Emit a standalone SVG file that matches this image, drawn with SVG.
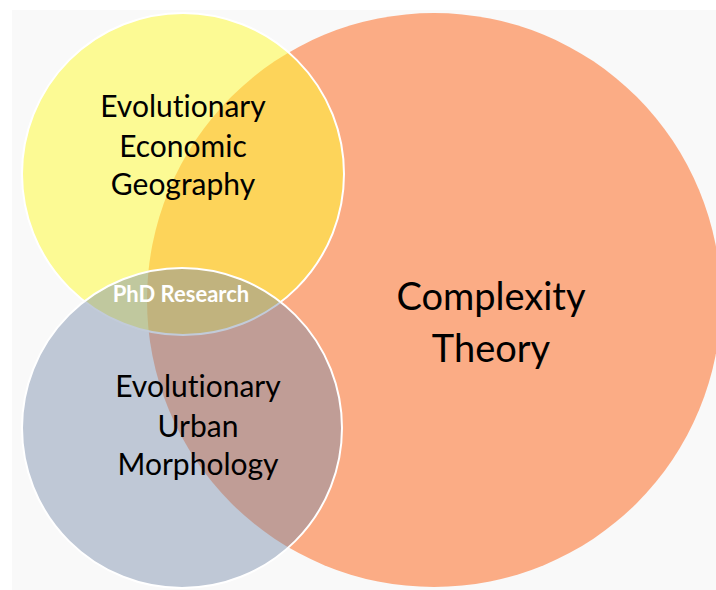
<svg xmlns="http://www.w3.org/2000/svg" width="716" height="590" viewBox="0 0 716 590">
  <style>
    .lbl { font-family: Lato, "Open Sans", "Liberation Sans", sans-serif; fill: #000; text-anchor: middle; font-variant-ligatures: none; }
    .mid { font-size: 30px; }
    .big { font-size: 38px; }
    .phd { font-family: Lato, "Open Sans", "Liberation Sans", sans-serif; font-weight: bold; font-size: 22px; fill: #ffffff; text-anchor: middle; }
    .ring { stroke: #ffffff; stroke-width: 2; }
  </style>
  <rect x="0" y="0" width="716" height="590" fill="#ffffff"/>
  <rect x="12" y="10" width="704" height="580" fill="#f9f9f9"/>

  <g id="complexity-theory">
    <circle cx="434" cy="300" r="287" fill="#fbac85"/>
    <text class="lbl big" x="491" y="310">Complexity</text>
    <text class="lbl big" x="491" y="362">Theory</text>
  </g>

  <g id="evolutionary-economic-geography">
    <circle class="ring" cx="183" cy="174" r="161" fill="#fffb30" fill-opacity="0.5"/>
  </g>

  <g id="evolutionary-urban-morphology">
    <circle class="ring" cx="182" cy="428" r="160" fill="#778caa" fill-opacity="0.45"/>
  </g>

  <g id="labels-top">
    <text class="lbl mid" x="183" y="117">Evolutionary</text>
    <text class="lbl mid" x="183" y="157">Economic</text>
    <text class="lbl mid" x="183" y="195">Geography</text>
  </g>

  <g id="labels-bottom">
    <text class="lbl mid" x="198" y="397">Evolutionary</text>
    <text class="lbl mid" x="198" y="437">Urban</text>
    <text class="lbl mid" x="198" y="475">Morphology</text>
  </g>

  <g id="phd-research">
    <text class="phd" x="181" y="302">PhD Research</text>
  </g>

  <g id="connectors"></g>
</svg>
